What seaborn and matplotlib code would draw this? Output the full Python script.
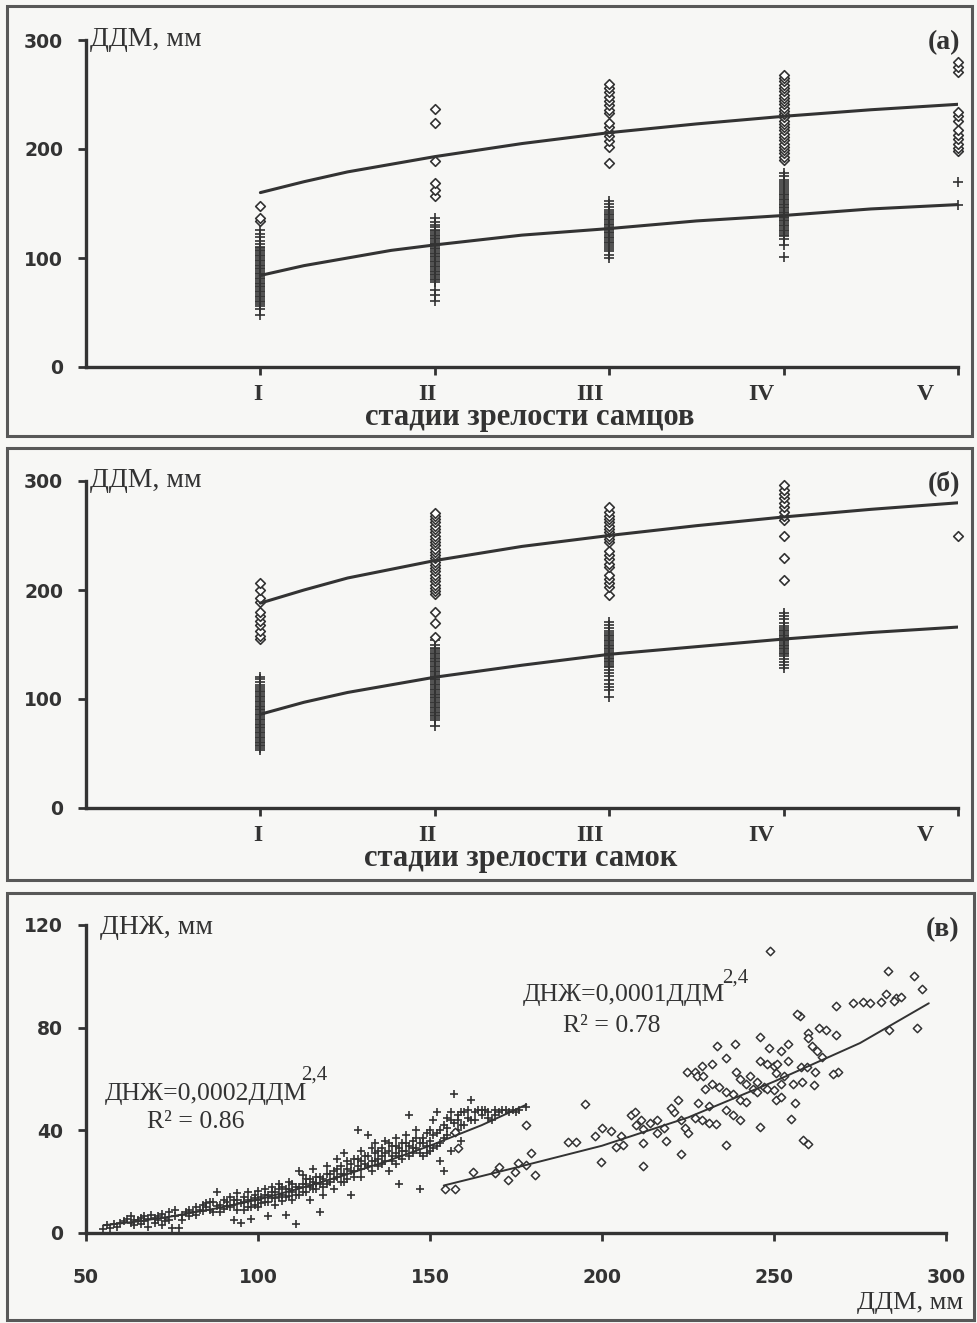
"""
Стадии зрелости и ДДМ / ДНЖ — три панели (а), (б), (в).
Значения сняты с рисунка на глаз.
"""

import matplotlib

matplotlib.use("Agg")

import matplotlib.pyplot as plt
import pandas as pd
import seaborn as sns
from matplotlib.patches import Rectangle

W, H = 978, 1323
INK = "#333333"
FRAME = "#585858"
PAPER = "#f7f7f5"

STAGES = [1, 2, 3, 4, 5]
STAGE_LABELS = ["I", "II", "III", "IV", "V"]

# (а) самцы: ДДМ по стадиям, кресты и ромбы
M_CROSSES = [
    [48, 53, 56, 58, 59.5, 61, 62.5, 64, 65.5, 67, 68.5, 70, 71.5, 73, 74.5,
     76, 77.5, 79, 80.5, 82, 83.5, 85, 86.5, 88, 89.5, 91, 92.5, 94, 95.5,
     97, 98.5, 100, 101.5, 103, 104.5, 106, 107.5, 109, 110.5, 113, 116,
     119, 122, 126],
    [61, 66, 71, 78, 79.5, 81, 82.5, 84, 85.5, 87, 88.5, 90, 91.5, 93, 94.5,
     96, 97.5, 99, 100.5, 102, 103.5, 105, 106.5, 108, 109.5, 111, 112.5,
     114, 115.5, 117, 118.5, 120, 121.5, 123, 124.5, 126, 128, 130, 133, 137],
    [100, 103, 106, 108, 110, 112, 113.5, 115, 116.5, 118, 119.5, 121, 122.5,
     124, 125.5, 127, 128.5, 130, 131.5, 133, 134.5, 136, 137.5, 139, 140.5,
     142, 144, 147, 150, 152],
    [101, 112, 117, 120, 121.5, 123, 124.5, 126, 127.5, 129, 130.5, 132,
     133.5, 135, 136.5, 138, 139.5, 141, 142.5, 144, 145.5, 147, 148.5, 150,
     151.5, 153, 154.5, 156, 157.5, 159, 160.5, 162, 164, 166, 168, 170, 172,
     175, 178],
    [149, 170],
]
M_DIAMONDS = [
    [134, 137, 148],
    [157, 162, 169, 189, 224, 237],
    [187, 202, 207, 212, 216, 220, 224, 233, 236, 240, 244, 248, 252, 256, 260],
    [190, 193, 196, 199, 202, 205, 208, 211, 214, 217, 220, 223, 226, 229,
     232, 235, 238, 241, 244, 247, 250, 253, 256, 259, 262, 265, 268],
    [198, 201, 205, 209, 213, 217, 226, 230, 234, 271, 275, 280],
]

# (б) самки
F_CROSSES = [
    [53, 55, 56.5, 58, 59.5, 61, 62.5, 64, 65.5, 67, 68.5, 70, 71.5, 73,
     74.5, 76, 77.5, 79, 80.5, 82, 83.5, 85, 86.5, 88, 89.5, 91, 92.5, 94,
     95.5, 97, 98.5, 100, 101.5, 103, 104.5, 106, 107.5, 109, 111, 113, 116,
     118, 120],
    [75, 81, 82.5, 84, 85.5, 87, 88.5, 90, 91.5, 93, 94.5, 96, 97.5, 99,
     100.5, 102, 103.5, 105, 106.5, 108, 109.5, 111, 112.5, 114, 115.5, 117,
     118.5, 120, 121.5, 123, 124.5, 126, 127.5, 129, 130.5, 132, 133.5, 135,
     136.5, 138, 139.5, 141, 142.5, 144, 145.5, 147, 150, 154],
    [102, 108, 111, 114, 117, 121, 124, 127, 129, 130.5, 132, 133.5, 135,
     136.5, 138, 139.5, 141, 142.5, 144, 145.5, 147, 148.5, 150, 151.5, 153,
     154.5, 156, 157.5, 159, 160.5, 162, 165, 168, 171],
    [128, 131, 134, 137, 139, 141, 142.5, 144, 145.5, 147, 148.5, 150, 151.5,
     153, 154.5, 156, 157.5, 159, 160.5, 162, 163.5, 165, 167, 170, 173, 176,
     179],
    [],
]
F_DIAMONDS = [
    [155, 158, 162, 168, 172, 176, 180, 189, 193, 200, 206],
    [157, 170, 180, 196, 199, 202, 205, 208, 211, 214, 217, 220, 223, 226,
     229, 232, 235, 238, 241, 244, 247, 250, 253, 256, 259, 262, 265, 268, 271],
    [195, 203, 206, 210, 214, 221, 224, 228, 232, 236, 244, 247, 250, 253,
     256, 259, 262, 265, 268, 272, 276],
    [209, 229, 250, 264, 268, 272, 276, 280, 284, 288, 292, 296],
    [250],
]

# линии тренда (а), (б)
CURVE_X = [1, 1.25, 1.5, 1.75, 2, 2.5, 3, 3.5, 4, 4.5, 5]
M_UPPER = [160, 170, 179, 186, 193, 205, 215, 223, 230, 236, 241]
M_LOWER = [84, 93, 100, 107, 112, 121, 127, 134, 139, 145, 149]
F_UPPER = [188, 200, 211, 219, 227, 240, 250, 259, 267, 274, 280]
F_LOWER = [86, 97, 106, 113, 120, 131, 141, 148, 155, 161, 166]

# (в) ДНЖ от ДДМ: кресты (самцы) и ромбы (самки)
C_CROSSES = [
    (55, 1.5), (56, 3), (57, 2), (58, 3.5), (59, 2.5), (60, 4),
    (61, 4.5), (62, 5.5), (63, 4), (63, 6.5), (64, 3), (64, 5), (65, 5),
    (66, 6), (66, 3.5), (67, 4.5), (67, 6.5), (68, 5.5), (68, 2.5), (69, 7),
    (70, 4), (70, 6), (71, 5), (71, 6.5), (72, 3), (72, 7.5), (73, 6),
    (73, 4.5), (74, 5), (74, 8), (75, 2), (76, 6.5), (76, 9), (77, 2),
    (78, 7), (78, 5), (79, 8), (80, 6.5), (80, 9), (81, 8), (82, 10),
    (82, 7), (83, 9), (84, 8.5), (84, 11), (85, 10), (85, 11.5), (86, 9),
    (86, 12), (87, 12), (87, 8), (88, 10.5), (88, 16), (89, 11), (89, 8),
    (90, 9.5), (90, 13), (91, 12), (91, 10.5), (92, 10), (92, 14), (93, 11),
    (93, 5), (93, 13), (94, 13), (94, 15.5), (94, 9), (95, 11.5), (95, 4),
    (96, 14), (96, 12), (96, 9), (97, 10), (97, 16), (97, 13), (98, 13),
    (98, 5.5), (98, 10), (99, 15), (99, 11), (99, 13.5), (100, 13),
    (100, 16.5), (100, 10), (101, 14), (101, 11.5), (102, 12), (102, 17),
    (102, 15), (103, 15), (103, 6.5), (103, 12), (104, 13.5), (104, 18),
    (104, 16), (105, 16), (105, 11), (105, 13.5), (106, 14), (106, 19),
    (106, 17), (107, 12.5), (107, 15), (107, 18), (108, 17), (108, 7),
    (108, 14), (109, 14.5), (109, 20), (109, 17), (110, 16), (110, 13),
    (110, 19), (111, 18), (111, 3.5), (111, 15), (112, 15), (112, 24),
    (112, 18), (113, 19), (113, 22.5), (113, 16), (114, 16), (114, 21),
    (114, 19), (115, 18), (115, 13), (115, 21), (116, 20), (116, 25),
    (116, 17), (117, 17), (117, 22), (117, 19.5), (118, 19), (118, 8),
    (118, 22), (119, 21), (119, 15), (119, 18), (120, 23), (120, 19),
    (120, 26), (121, 20), (121, 23), (122, 24), (122, 17), (122, 21),
    (123, 22), (123, 29), (123, 25), (124, 26), (124, 20), (124, 23),
    (125, 23), (125, 31), (125, 20), (126, 25), (126, 21), (126, 28),
    (127, 27), (127, 15), (127, 24), (128, 24), (128, 29), (128, 22),
    (129, 26), (129, 40), (129, 29), (130, 28), (130, 22), (130, 32),
    (130, 25), (131, 27), (131, 30), (132, 30), (132, 38), (132, 26),
    (133, 28), (133, 24), (133, 33), (134, 31), (134, 35), (134, 28),
    (135, 29), (135, 26), (135, 32), (136, 33), (136, 30), (136, 27),
    (137, 28), (137, 36), (137, 31), (138, 32), (138, 24), (138, 35),
    (139, 34), (139, 30), (139, 28), (140, 31), (140, 37), (140, 27),
    (140, 34), (141, 33), (141, 19), (141, 30), (142, 35), (142, 29),
    (142, 32), (143, 32), (143, 38), (143, 35), (144, 34), (144, 46),
    (144, 30), (145, 31), (145, 36), (145, 33), (146, 40), (146, 33),
    (146, 37), (147, 35), (147, 17), (147, 31), (148, 37), (148, 30),
    (148, 35), (149, 34), (149, 39), (149, 31), (150, 36), (150, 32),
    (150, 40), (151, 44), (151, 38), (151, 33), (152, 47), (152, 34),
    (152, 39), (153, 40), (153, 28), (153, 35), (154, 42), (154, 24),
    (154, 37), (155, 45), (155, 38), (155, 41), (156, 47), (156, 32),
    (156, 44), (157, 54), (157, 43), (157, 39), (158, 46), (158, 40),
    (158, 44), (159, 47), (159, 36), (159, 42), (160, 47), (160, 42),
    (161, 48), (161, 45), (162, 52), (162, 44), (163, 47), (163, 44),
    (164, 48), (165, 46), (165, 48), (166, 48), (167, 47), (167, 45),
    (168, 44), (169, 48), (169, 46), (170, 47), (171, 48), (172, 48),
    (173, 47), (174, 48), (175, 47), (176, 48), (178, 49),
]
C_DIAMONDS = [
    (154.4, 17.0), (157.3, 17.3), (157.3, 39.3), (158, 33), (162.5, 23.8),
    (168.8, 23.2), (170, 25.7), (172.6, 20.6), (174.6, 23.8), (175.5, 27.1),
    (178, 26.4), (179.5, 31), (180.5, 22.5), (178, 42),
    (190, 35.5), (192.4, 35.5), (195, 50.4), (198, 37.6), (200, 40.8),
    (199.6, 27.7), (202.5, 39.9), (205.5, 37.6), (204, 33.5), (206, 34.2),
    (208.4, 46), (209.5, 47.3), (210, 42), (211.3, 44), (212, 40.5),
    (212, 35), (212, 26), (214, 43), (216, 44), (218, 41), (216, 39),
    (218.7, 36), (221, 47), (223, 44), (224, 41), (225, 39), (222, 52),
    (220, 48.7), (223, 30.7), (224.6, 62.7), (227, 62.7), (227.5, 61.2),
    (229.4, 61.2), (229, 65), (232, 66), (228, 50.6), (231, 49.3),
    (227, 45), (229, 44), (231, 43), (233, 42.5), (230, 56), (232, 58),
    (234, 57), (236, 68), (239, 62.6), (238.6, 73.7), (233.5, 73),
    (236, 55), (238, 54), (240, 52), (242, 51), (236, 48), (238, 46),
    (240, 44), (236, 34.2), (240, 60), (242, 58), (244, 56), (245, 55),
    (243, 61), (245, 59), (247, 57), (248, 56), (246, 76.2), (248.6, 72),
    (246, 67), (248, 66), (250, 65), (246, 41.4), (250, 55.8), (252, 58),
    (250.5, 51.9), (252, 53), (252, 71), (254, 67), (251, 66), (250.5, 62.5),
    (253, 61), (254, 73.8), (255.4, 58), (255, 44.5), (256, 50.8),
    (257.8, 64.6), (258, 58.8), (261.5, 57.5), (259.7, 64.6), (262, 62.6),
    (261, 73), (262.5, 71), (264, 68.5), (257.5, 84.7), (260, 78),
    (260, 76), (263, 80), (265, 79), (268, 77), (268.6, 62.6), (268, 88.5),
    (260, 34.5), (258.5, 36.1), (256.6, 85.3), (267.2, 62), (273, 89.8),
    (276, 90), (277.8, 89.8), (281, 90), (282.6, 93), (285.5, 91.7),
    (283, 102), (290.7, 100.2), (293, 95), (283.5, 79), (291.7, 80),
    (285, 90.5), (287, 91.8), (248.8, 109.9),
]

C_CROSS_LINE_X = [55, 65, 75, 87.5, 100, 112.5, 125, 137.5, 150, 165, 178]
C_CROSS_LINE_Y = [3, 4.5, 6.5, 9.5, 13, 17.5, 22.5, 28, 34, 42, 50]
C_DIAM_LINE_X = [154, 175, 200, 225, 250, 275, 295]
C_DIAM_LINE_Y = [18.5, 25.5, 34, 45, 59, 74, 89.5]

sns.set_theme(style="white")
plt.rcParams["font.family"] = ["Liberation Serif", "DejaVu Serif"]
SANS = ["DejaVu Sans"]


def px(x, y):
    """пиксели картинки -> доли фигуры"""
    return x / W, 1 - y / H


def put(fig, x, y, s, **kw):
    kw.setdefault("color", INK)
    kw.setdefault("va", "baseline")
    fig.text(*px(x, y), s, **kw)


def frame(fig, x0, y0, x1, y1):
    fx, fy = px(x0, y1)
    fig.add_artist(Rectangle((fx, fy), (x1 - x0) / W, (y1 - y0) / H,
                             transform=fig.transFigure, fill=False,
                             ec=FRAME, lw=2.2))


def style_axes(ax, xpad, ypad):
    ax.set_facecolor("none")
    for side in ("top", "right"):
        ax.spines[side].set_visible(False)
    for side in ("left", "bottom"):
        ax.spines[side].set_linewidth(2.4)
        ax.spines[side].set_color(INK)
    ax.tick_params(axis="both", direction="out", length=6, width=2.0,
                   color=INK, labelcolor=INK, labelsize=13.5,
                   left=True, bottom=True)
    ax.tick_params(axis="x", pad=xpad)
    ax.tick_params(axis="y", pad=ypad)
    for lbl in ax.get_xticklabels() + ax.get_yticklabels():
        lbl.set_fontfamily(SANS)
        lbl.set_fontweight("bold")
    ax.set_xlabel("")
    ax.set_ylabel("")


def stage_table(columns):
    rows = [(st, v) for st, vals in zip(STAGES, columns) for v in vals]
    return pd.DataFrame(rows, columns=["stage", "ddm"])


def panel_stages(fig, rect, crosses, diamonds, upper, lower, dy,
                 xlabel, xlabel_x, tag):
    ax = fig.add_axes(rect)
    sns.scatterplot(data=stage_table(crosses), x="stage", y="ddm",
                    marker="+", s=46, color=INK, linewidth=1.2,
                    clip_on=False, zorder=2, ax=ax)
    sns.scatterplot(data=stage_table(diamonds), x="stage", y="ddm",
                    marker="D", s=24, color="white", edgecolor=INK,
                    linewidth=1.2, clip_on=False, zorder=2, ax=ax)
    for curve in (upper, lower):
        sns.lineplot(x=CURVE_X, y=curve, color=INK, linewidth=2.2,
                     estimator=None, zorder=3, ax=ax)
    ax.set_xlim(0, 5)
    ax.set_ylim(0, 300)
    ax.set_xticks(STAGES, labels=[""] * 5)
    ax.set_yticks([0, 100, 200, 300])
    style_axes(ax, 4, 10.5)

    # подписи стадий у Excel смещены влево от рисок
    for x, lab in zip([258, 427, 590, 761, 925], STAGE_LABELS):
        put(fig, x, 400 + dy, lab, ha="center", size=17, weight="bold")
    put(fig, 90, 46 + dy, "ДДМ, мм", ha="left", size=20)
    put(fig, xlabel_x, 425 + dy, xlabel, ha="center", size=22,
        weight="bold")
    put(fig, 944, 49 + dy, tag, ha="center", size=20, weight="bold")


def panel_scatter(fig, rect):
    ax = fig.add_axes(rect)
    crosses = pd.DataFrame(C_CROSSES, columns=["ddm", "dnzh"])
    diamonds = pd.DataFrame(C_DIAMONDS, columns=["ddm", "dnzh"])
    sns.scatterplot(data=crosses, x="ddm", y="dnzh", marker="+", s=38,
                    color=INK, linewidth=1.2, zorder=2, ax=ax)
    sns.scatterplot(data=diamonds, x="ddm", y="dnzh", marker="D", s=18,
                    color="white", edgecolor=INK, linewidth=1.1,
                    clip_on=False, zorder=2, ax=ax)
    sns.lineplot(x=C_CROSS_LINE_X, y=C_CROSS_LINE_Y, color=INK,
                 linewidth=1.4, estimator=None, zorder=3, ax=ax)
    sns.lineplot(x=C_DIAM_LINE_X, y=C_DIAM_LINE_Y, color=INK,
                 linewidth=1.4, estimator=None, zorder=3, ax=ax)
    ax.set_xlim(50, 300)
    ax.set_ylim(0, 120)
    ax.set_xticks([50, 100, 150, 200, 250, 300])
    ax.set_yticks([0, 40, 80, 120])
    style_axes(ax, 19, 10.5)

    put(fig, 100, 934, "ДНЖ, мм", ha="left", size=20)
    put(fig, 963, 1309, "ДДМ, мм", ha="right", size=19)
    put(fig, 105, 1100, "ДНЖ=0,0002ДДМ", ha="left", size=18.5)
    put(fig, 301, 1080, "2,4", ha="left", size=15)
    put(fig, 147, 1128, "R² = 0.86", ha="left", size=18.5)
    put(fig, 523, 1001, "ДНЖ=0,0001ДДМ", ha="left", size=18.5)
    put(fig, 722, 983, "2,4", ha="left", size=15)
    put(fig, 563, 1032, "R² = 0.78", ha="left", size=18.5)
    put(fig, 943, 936, "(в)", ha="center", size=20, weight="bold")


def main():
    fig = plt.figure(figsize=(W / 100, H / 100), dpi=100, facecolor=PAPER)
    for box in [(7, 6, 972, 436), (7, 448, 972, 880), (7, 893, 974, 1320)]:
        frame(fig, *box)

    left, width = 86 / W, 872 / W
    panel_stages(fig, [left, 1 - 367 / H, width, 327 / H],
                 M_CROSSES, M_DIAMONDS, M_UPPER, M_LOWER, 0,
                 "стадии зрелости самцов", 530, "(а)")
    panel_stages(fig, [left, 1 - 808 / H, width, 327 / H],
                 F_CROSSES, F_DIAMONDS, F_UPPER, F_LOWER, 441,
                 "стадии зрелости самок", 521, "(б)")
    panel_scatter(fig, [left, 1 - 1233 / H, 860 / W, 308 / H])

    fig.savefig("out.png", dpi=100, facecolor=PAPER)
    plt.close(fig)


if __name__ == "__main__":
    main()
